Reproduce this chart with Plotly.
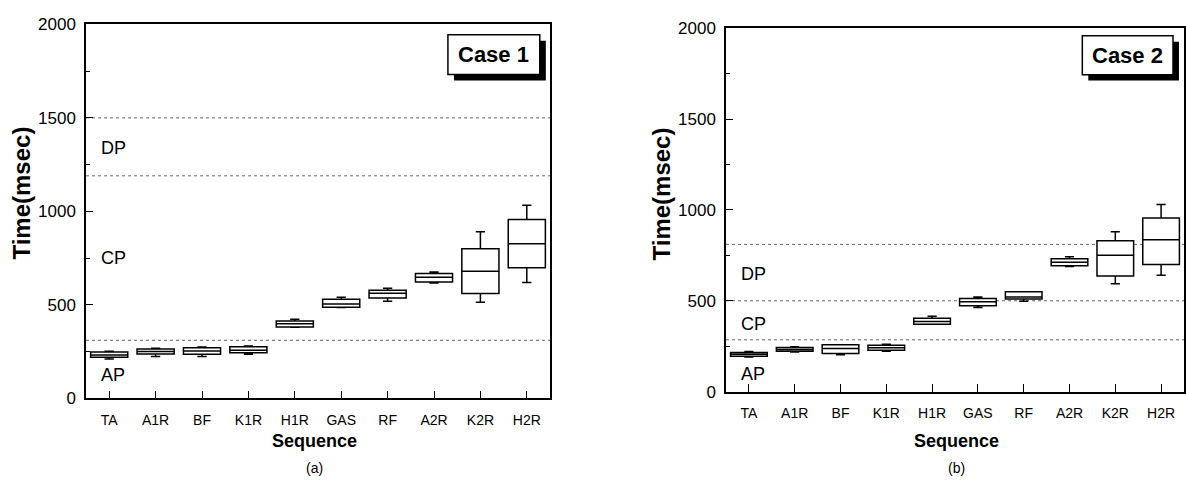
import plotly.graph_objects as go

categories = ["TA", "A1R", "BF", "K1R", "H1R", "GAS", "RF", "A2R", "K2R", "H2R"]

# Case 1 box statistics (msec)
case1_low = [210, 223, 223, 235, 380, 485, 519, 617, 514, 620]
case1_q1 = [220, 237, 236, 243, 382, 487, 536, 622, 560, 698]
case1_med = [232, 250, 253, 257, 399, 505, 562, 648, 680, 826]
case1_q3 = [248, 264, 270, 276, 414, 530, 578, 668, 800, 956]
case1_high = [252, 268, 274, 280, 423, 540, 588, 676, 891, 1033]

# Case 2 box statistics (msec)
case2_low = [190, 218, 203, 222, 371, 463, 497, 688, 594, 640]
case2_q1 = [195, 222, 210, 227, 371, 472, 509, 692, 636, 700]
case2_med = [205, 232, 237, 241, 386, 494, 520, 712, 750, 835]
case2_q3 = [215, 242, 258, 255, 403, 512, 550, 731, 830, 955]
case2_high = [220, 246, 258, 260, 415, 521, 550, 742, 880, 1030]

# Phase boundaries (dotted lines) and labels
case1_bounds = [1500, 1190, 310]
case2_bounds = [810, 500, 285]
phase_names = ["DP", "CP", "AP"]
case1_label_y = [1340, 750, 125]
case2_label_y = [645, 370, 95]

y_ticks = [0, 500, 1000, 1500, 2000]

FONT = "Liberation Sans, Arial, Helvetica, sans-serif"

W, H = 1186, 490


def X(px):
    return px / W


def Y(py):
    return 1 - py / H


fig = go.Figure()


def add_box(q1, med, q3, lo, hi, xa, ya):
    fig.add_trace(go.Box(
        x=categories, q1=q1, median=med, q3=q3, lowerfence=lo, upperfence=hi,
        xaxis=xa, yaxis=ya, fillcolor="white",
        line=dict(color="black", width=1.5), whiskerwidth=0.25,
        width=0.8, boxpoints=False, showlegend=False, hoverinfo="y"))


add_box(case1_q1, case1_med, case1_q3, case1_low, case1_high, "x", "y")
add_box(case2_q1, case2_med, case2_q3, case2_low, case2_high, "x2", "y2")

dom_x1 = [X(86), X(550)]
dom_x2 = [X(726), X(1184)]
dom_y1 = [Y(405), Y(16)]
dom_y2 = [Y(398), Y(20)]

xcommon = dict(range=[-0.5, 9.5], ticks="inside", ticklen=8, tickwidth=1.2, tickcolor="black",
               showline=True, linecolor="black", linewidth=1.5, mirror=True, showgrid=False,
               tickfont=dict(family=FONT, size=14, color="black"), zeroline=False,
               ticklabelstandoff=8,
               categoryorder="array", categoryarray=categories)
ycommon = dict(range=[0, 2000], tickvals=y_ticks, ticks="inside", ticklen=7, tickwidth=1.2,
               tickcolor="black", showline=True, linecolor="black", linewidth=1.5, mirror=True,
               showgrid=False, zeroline=False,
               minor=dict(dtick=250, ticks="inside", ticklen=4, tickcolor="black", showgrid=False),
               tickfont=dict(family=FONT, size=17, color="black"), ticklabelstandoff=5)

fig.update_layout(
    width=W, height=H, margin=dict(l=0, r=0, t=0, b=0),
    paper_bgcolor="white", plot_bgcolor="white",
    xaxis=dict(domain=dom_x1, anchor="y", **xcommon),
    yaxis=dict(domain=dom_y1, anchor="x", **ycommon),
    xaxis2=dict(domain=dom_x2, anchor="y2", **xcommon),
    yaxis2=dict(domain=dom_y2, anchor="x2", **ycommon),
)

shapes = []
annotations = []


def panel_decor(xr, yr, bounds, label_y, case_text, case_box, xcenter, ycenter_title, sub):
    for b in bounds:
        shapes.append(dict(type="line", xref=xr + " domain", yref=yr, x0=0, x1=1, y0=b, y1=b,
                           line=dict(color="#666666", width=1, dash="dot"), layer="below"))
    for name, ly in zip(phase_names, label_y):
        annotations.append(dict(text=name, xref=xr + " domain", yref=yr, x=0.028, y=ly,
                                xanchor="left", yanchor="middle", showarrow=False,
                                font=dict(family=FONT, size=18, color="black")))
    x0, x1, y0, y1 = case_box
    shapes.append(dict(type="rect", xref=xr + " domain", yref=yr + " domain",
                       x0=x0 + 0.013, x1=x1 + 0.013, y0=y0 - 0.016, y1=y1 - 0.016,
                       fillcolor="black", line=dict(color="black", width=0)))
    shapes.append(dict(type="rect", xref=xr + " domain", yref=yr + " domain",
                       x0=x0, x1=x1, y0=y0, y1=y1,
                       fillcolor="white", line=dict(color="black", width=1.5)))
    annotations.append(dict(text="<b>" + case_text + "</b>", xref=xr + " domain", yref=yr + " domain",
                            x=(x0 + x1) / 2, y=(y0 + y1) / 2, xanchor="center", yanchor="middle",
                            showarrow=False, font=dict(family=FONT, size=22, color="black")))
    annotations.append(dict(text="<b>Time(msec)</b>", xref="paper", yref="paper",
                            x=X(xcenter[0]), y=Y(ycenter_title), textangle=-90,
                            xanchor="center", yanchor="middle",
                            showarrow=False, font=dict(family=FONT, size=24, color="black")))
    annotations.append(dict(text="<b>Sequence</b>", xref="paper", yref="paper",
                            x=X(xcenter[1]), y=Y(449), xanchor="center", yanchor="middle",
                            showarrow=False, font=dict(family=FONT, size=18, color="black")))
    annotations.append(dict(text=sub, xref="paper", yref="paper",
                            x=X(xcenter[1]), y=Y(478), xanchor="center", yanchor="middle",
                            showarrow=False, font=dict(family=FONT, size=14, color="black")))


panel_decor("x", "y", case1_bounds, case1_label_y, "Case 1", (0.78, 0.978, 0.866, 0.972),
            (22, 314), 192, "(a)")
panel_decor("x2", "y2", case2_bounds, case2_label_y, "Case 2", (0.778, 0.976, 0.872, 0.979),
            (662, 957), 193, "(b)")

fig.update_layout(shapes=shapes, annotations=annotations)
fig.write_html("out.html")
